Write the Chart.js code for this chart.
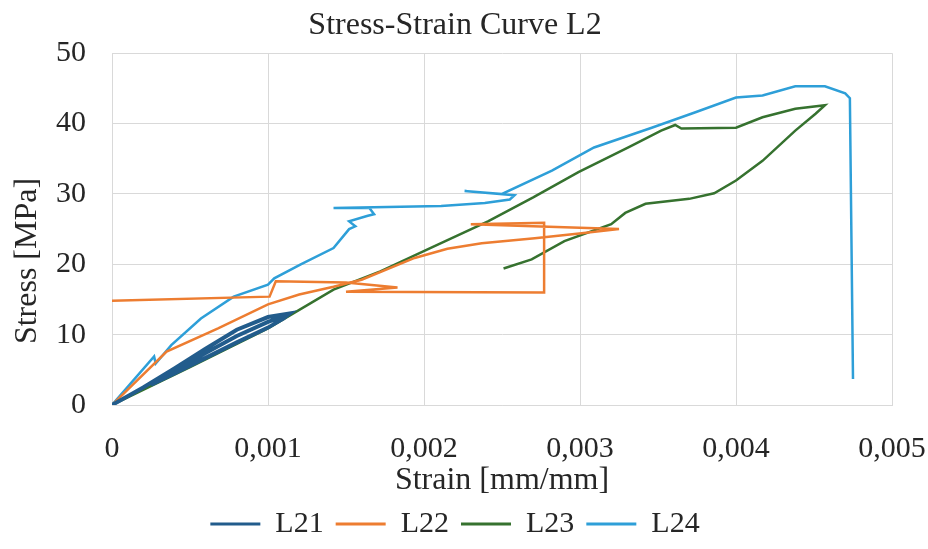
<!DOCTYPE html>
<html>
<head>
<meta charset="utf-8">
<script src="https://cdn.jsdelivr.net/npm/chart.js@4.4.1/dist/chart.umd.min.js"></script>
<style>
  html, body { margin: 0; padding: 0; background: #fff; }
  #wrap { width: 928px; height: 549px; }
</style>
</head>
<body>
<div id="wrap"><canvas id="chart" width="928" height="549"></canvas></div>
<script>
// values (strain in mm/mm, stress in MPa)
const l21Strain = [0, 0.0002, 0.0004, 0.0006, 0.0008, 0.001, 0.00114, 0.0011, 0.001, 0.0008, 0.0006, 0.0004, 0.00025, 0.0004, 0.0006, 0.0008, 0.001, 0.0011];
const l21Stress = [0, 2.5, 5.2, 8.0, 10.7, 12.5, 13.0, 12.3, 11.0, 8.9, 6.7, 4.5, 2.9, 4.9, 7.4, 9.8, 11.8, 12.6];

const l22Strain = [0, 0.00035, 0.00068, 0.001, 0.0012, 0.00142, 0.0016, 0.00194, 0.00215, 0.00237, 0.00271, 0.00301, 0.00325, 0.0023, 0.00277, 0.00277, 0.0015, 0.00183, 0.0015, 0.00105, 0.00101, 0];
const l22Stress = [0, 7.6, 10.9, 14.3, 15.7, 16.8, 17.8, 20.9, 22.2, 23.0, 23.7, 24.4, 25.0, 25.7, 25.9, 16.0, 16.1, 16.7, 17.4, 17.6, 15.4, 14.8];

const l23Strain = [0, 0.0005, 0.001, 0.00142, 0.00172, 0.00204, 0.00241, 0.0027, 0.00299, 0.00331, 0.00352, 0.00361, 0.00365, 0.004, 0.00417, 0.00438, 0.00457, 0.00451, 0.00438, 0.00417, 0.004, 0.00386, 0.0037, 0.00342, 0.00329, 0.0032, 0.0029, 0.00269, 0.00251];
const l23Stress = [0, 5.4, 10.9, 16.4, 19.0, 22.3, 26.1, 29.5, 33.1, 36.6, 39.0, 39.8, 39.3, 39.4, 40.9, 42.1, 42.6, 41.4, 39.0, 34.7, 31.9, 30.1, 29.3, 28.6, 27.3, 25.7, 23.3, 20.7, 19.4];

const l24Strain = [0, 0.00027, 0.00028, 0.00038, 0.00057, 0.00078, 0.001, 0.00104, 0.00121, 0.00142, 0.00152, 0.00156, 0.00152, 0.00164, 0.00168, 0.00165, 0.00142, 0.00211, 0.00239, 0.00255, 0.00258, 0.00226, 0.0025, 0.00282, 0.00309, 0.00346, 0.00374, 0.004, 0.00417, 0.00438, 0.00457, 0.0047, 0.00473, 0.00475];
const l24Stress = [0, 6.9, 5.9, 8.5, 12.3, 15.4, 17.1, 18.0, 20.0, 22.3, 25.0, 25.4, 26.1, 26.9, 27.1, 28.0, 28.0, 28.3, 28.7, 29.2, 29.8, 30.4, 30.0, 33.3, 36.6, 39.4, 41.6, 43.7, 44.0, 45.3, 45.3, 44.3, 43.6, 3.7];

const seriesNames = ["L21", "L22", "L23", "L24"];
const seriesColors = ["#225C8C", "#ED7D31", "#36722F", "#2E9FD8"];
const xTickLabels = ["0", "0,001", "0,002", "0,003", "0,004", "0,005"];

const fontFamily = "'Liberation Serif', 'Times New Roman', serif";
const textColor = "#262626";
const gridColor = "#D9D9D9";

function toPoints(xs, ys) {
    return xs.map((x, i) => ({ x: x, y: ys[i] }));
}

const allData = [
    toPoints(l21Strain, l21Stress),
    toPoints(l22Strain, l22Stress),
    toPoints(l23Strain, l23Stress),
    toPoints(l24Strain, l24Stress)
];

const datasets = seriesNames.map((name, i) => ({
    label: name,
    data: allData[i],
    showLine: true,
    fill: false,
    borderColor: seriesColors[i],
    backgroundColor: seriesColors[i],
    borderWidth: i === 0 ? 4 : 2.5,
    pointRadius: 0,
    tension: 0
}));

// y axis title sits a bit below the middle of the plot in the reference
const yTitlePlugin = {
    id: "yTitle",
    afterDraw(chart) {
        const c = chart.ctx;
        c.save();
        c.translate(28, 261);
        c.rotate(-Math.PI / 2);
        c.font = "32px " + fontFamily;
        c.fillStyle = textColor;
        c.textAlign = "center";
        c.textBaseline = "middle";
        c.fillText("Stress [MPa]", 0, 0);
        c.restore();
    }
};

const ctx = document.getElementById("chart");

new Chart(ctx, {
    type: "scatter",
    data: { datasets: datasets },
    plugins: [yTitlePlugin],
    options: {
        responsive: false,
        animation: false,
        devicePixelRatio: 1,
        layout: { padding: { left: 0, right: 18, top: 0, bottom: 0 } },
        plugins: {
            title: {
                display: true,
                text: "Stress-Strain Curve L2",
                color: textColor,
                font: { family: fontFamily, size: 32, weight: "normal", lineHeight: 1.1 },
                padding: { top: 8, bottom: 10 }
            },
            legend: {
                position: "bottom",
                labels: {
                    color: textColor,
                    font: { family: fontFamily, size: 30 },
                    usePointStyle: true,
                    pointStyle: "line",
                    pointStyleWidth: 50,
                    boxWidth: 50,
                    padding: 12,
                    generateLabels: chart => {
                        const items = Chart.defaults.plugins.legend.labels.generateLabels(chart);
                        items.forEach(item => { item.lineWidth = 3; });
                        return items;
                    }
                }
            },
            tooltip: { enabled: false }
        },
        scales: {
            x: {
                type: "linear",
                min: 0,
                max: 0.005,
                ticks: {
                    stepSize: 0.001,
                    color: textColor,
                    padding: 26,
                    font: { family: fontFamily, size: 30 },
                    callback: (value, index) => xTickLabels[index]
                },
                grid: { color: gridColor, drawTicks: false },
                border: { color: gridColor },
                title: {
                    display: true,
                    text: "Strain [mm/mm]",
                    color: textColor,
                    font: { family: fontFamily, size: 32, lineHeight: 1.0 },
                    padding: { top: 0, bottom: 0 }
                },
                afterFit: scale => {
                    scale.height = 92;
                    scale.paddingRight = 36;
                    scale.paddingLeft = 0;
                }
            },
            y: {
                min: 0,
                max: 50,
                ticks: {
                    stepSize: 10,
                    color: textColor,
                    padding: 26,
                    font: { family: fontFamily, size: 30 }
                },
                grid: { color: gridColor, drawTicks: false },
                border: { color: gridColor },
                title: { display: false },
                afterFit: scale => { scale.width = 112; }
            }
        }
    }
});
</script>
</body>
</html>
